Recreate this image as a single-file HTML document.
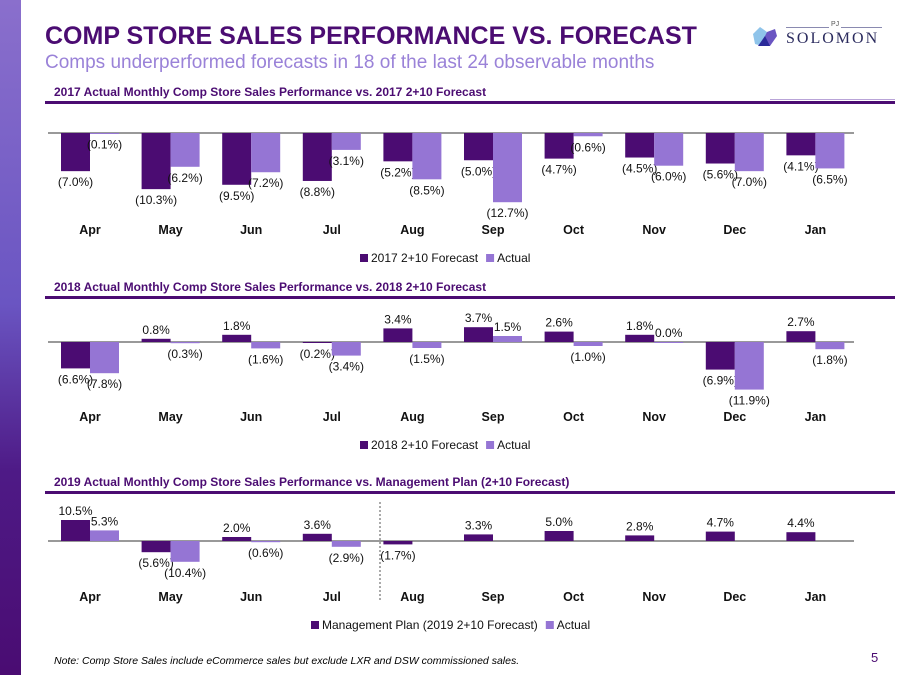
<!DOCTYPE html>
<html><head><meta charset="utf-8"><style>
body{margin:0;width:900px;height:675px;overflow:hidden;background:#fff;font-family:"Liberation Sans",Arial,sans-serif;position:relative}
.abs{position:absolute}
</style></head><body>
<div class="abs" style="left:0;top:0;width:21px;height:675px;background:linear-gradient(180deg,#8a6fcc 0%,#6a55c2 45%,#4e1a86 70%,#4a0c72 100%)"></div>
<div class="abs" style="left:45px;top:22px;font-size:25px;font-weight:bold;color:#4b0c72">COMP STORE SALES PERFORMANCE VS. FORECAST</div>
<div class="abs" style="left:45px;top:52px;font-size:19px;color:#9a82d8">Comps underperformed forecasts in 18 of the last 24 observable months</div>
<div class="abs" style="left:750px;top:22px;width:135px;height:28px">
<svg width="30" height="26" viewBox="0 0 30 26" style="position:absolute;left:0;top:2px"><polygon points="3,10 10,3 17,8 12,22 5,20" fill="#8fc4ea"/><polygon points="10,22 17,8 25,5 27,12 20,22" fill="#6a55c2"/><polygon points="8,22 15,12 20,22" fill="#2a2a9a"/></svg>
<div class="abs" style="left:36px;top:5px;width:96px;border-top:1px solid #8a8ab0"></div>
<div class="abs" style="left:79px;top:-1px;font-size:7px;color:#555;background:#fff;padding:0 2px">PJ</div>
<div class="abs" style="left:36px;top:8px;font-size:16px;letter-spacing:2px;color:#2b2b5e;font-family:'Liberation Serif',serif">SOLOMON</div>
</div>
<div class="abs" style="left:770px;top:99px;width:125px;border-top:1px solid #b9a4d8"></div>
<svg id="c" class="abs" style="left:0;top:0" width="900" height="675"></svg>
<div class="abs" style="left:54px;top:655px;font-size:10.5px;font-style:italic;color:#000">Note: Comp Store Sales include eCommerce sales but exclude LXR and DSW commissioned sales.</div>
<div class="abs" style="left:871px;top:650px;font-size:13px;color:#4b0c72">5</div>
<script>
const months=["Apr","May","Jun","Jul","Aug","Sep","Oct","Nov","Dec","Jan"];
const fc2017=[-7.0,-10.3,-9.5,-8.8,-5.2,-5.0,-4.7,-4.5,-5.6,-4.1];
const act2017=[-0.1,-6.2,-7.2,-3.1,-8.5,-12.7,-0.6,-6.0,-7.0,-6.5];
const fc2018=[-6.6,0.8,1.8,-0.2,3.4,3.7,2.6,1.8,-6.9,2.7];
const act2018=[-7.8,-0.3,-1.6,-3.4,-1.5,1.5,-1.0,0.0,-11.9,-1.8];
const fc2019=[10.5,-5.6,2.0,3.6,-1.7,3.3,5.0,2.8,4.7,4.4];
const act2019=[5.3,-10.4,-0.6,-2.9,null,null,null,null,null,null];
const NS="http://www.w3.org/2000/svg";
const svg=document.getElementById('c');
function mk(t,a,p){const e=document.createElementNS(NS,t);for(const k in a)e.setAttribute(k,a[k]);(p||svg).appendChild(e);return e;}
function fmt(v){return v<0?"("+Math.abs(v).toFixed(1)+"%)":v.toFixed(1)+"%";}
const FC="#4b0c72",AC="#9575d4";
function chart(o){
  const g=mk('g',{});
  
  
  const t=mk('text',{x:54,y:o.titleY,'font-size':12,'font-weight':'bold',fill:'#4b0c72'},g);t.textContent=o.title;
  
  mk('rect',{x:45,y:o.titleY+5,width:850,height:3,fill:'#4b0c72'},g);
  const x=i=>90+i*80.6, y=v=>o.base-v*o.k;
  mk('line',{x1:48,x2:854,y1:o.base,y2:o.base,stroke:'#333','stroke-width':1},g);
  const series=[[o.fc,FC,-29],[o.ac,AC,0]];
  series.forEach(([arr,col,off],si)=>{
    arr.forEach((v,i)=>{
      if(v===null)return;
      const y0=y(Math.max(v,0)),h=Math.max(Math.abs(v)*o.k,1);
      const r=mk('rect',{x:x(i)+off,y:y0,width:29,height:h,fill:col},g);
      
      
      const ly=v<0?y(v)+15:y(v)-5;
      const l=mk('text',{x:x(i)+off+14.5,y:ly,'font-size':12,'text-anchor':'middle',fill:'#111'},g);
      l.textContent=fmt(v);
      
      
    });
  });
  months.forEach((m,i)=>{const l=mk('text',{x:x(i),y:o.monthY,'font-size':12.5,'font-weight':'bold','text-anchor':'middle',fill:'#111'},g);l.textContent=m;
    });
  const lg=mk('g',{},g);
  
  let lx=o.legX;
  mk('rect',{x:lx,y:o.monthY+20,width:8,height:8,fill:FC},lg);
  const a=mk('text',{x:lx+11,y:o.monthY+28,'font-size':12,fill:'#111'},lg);a.textContent=o.legFc;
  const w=a.getComputedTextLength();
  mk('rect',{x:lx+11+w+8,y:o.monthY+20,width:8,height:8,fill:AC},lg);
  const b=mk('text',{x:lx+11+w+19,y:o.monthY+28,'font-size':12,fill:'#111'},lg);b.textContent="Actual";
}
chart({name:'chart-2017',title:'2017 Actual Monthly Comp Store Sales Performance vs. 2017 2+10 Forecast',titleY:96,base:133,k:5.45,fc:fc2017,ac:act2017,monthY:234,legX:360,legFc:'2017 2+10 Forecast'});
chart({name:'chart-2018',title:'2018 Actual Monthly Comp Store Sales Performance vs. 2018 2+10 Forecast',titleY:291,base:342,k:4.0,fc:fc2018,ac:act2018,monthY:421,legX:360,legFc:'2018 2+10 Forecast'});
chart({name:'chart-2019',title:'2019 Actual Monthly Comp Store Sales Performance vs. Management Plan (2+10 Forecast)',titleY:486,base:541,k:2.0,fc:fc2019,ac:act2019,monthY:601,legX:311,legFc:'Management Plan (2019 2+10 Forecast)'});
const d=mk('line',{x1:380,x2:380,y1:502,y2:602,stroke:'#555','stroke-dasharray':'2,2','stroke-width':1});


</script>
</body></html>
